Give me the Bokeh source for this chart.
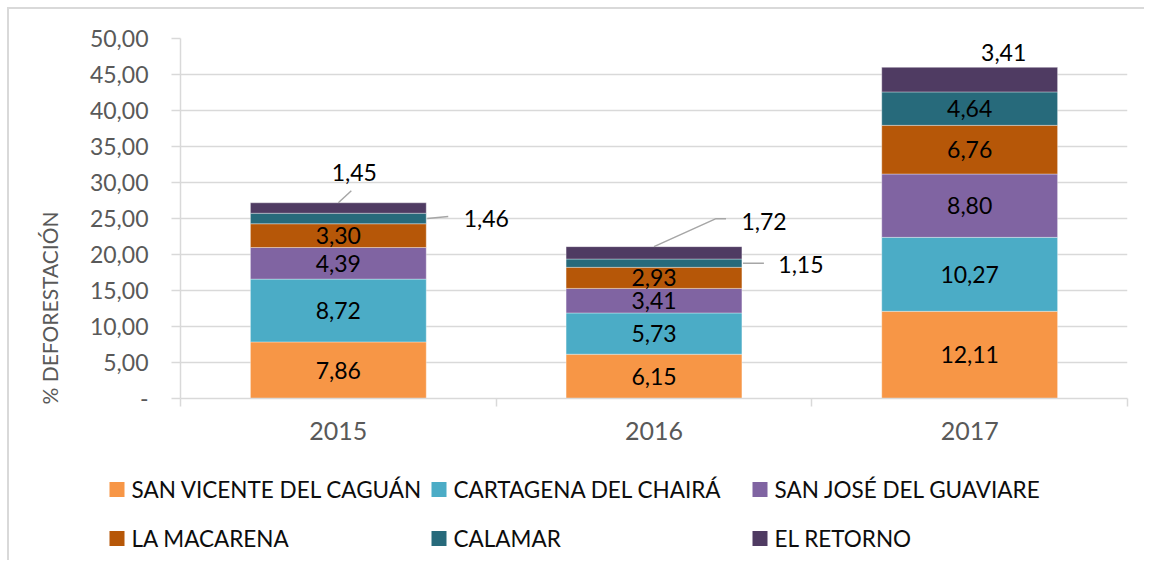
from bokeh.plotting import figure
from bokeh.layouts import column
from bokeh.models import (Range1d, LinearAxis, FixedTicker, ColumnDataSource, Title)
from bokeh.core.properties import value
from bokeh.embed import file_html
from bokeh.resources import INLINE

# ---------------- data ----------------
years = ["2015", "2016", "2017"]
municipios = ["SAN VICENTE DEL CAGUÁN", "CARTAGENA DEL CHAIRÁ", "SAN JOSÉ DEL GUAVIARE",
              "LA MACARENA", "CALAMAR", "EL RETORNO"]
san_vicente = [7.86, 6.15, 12.11]
cartagena = [8.72, 5.73, 10.27]
san_jose = [4.39, 3.41, 8.80]
macarena = [3.30, 2.93, 6.76]
calamar = [1.46, 1.15, 4.64]
retorno = [1.45, 1.72, 3.41]
series = [san_vicente, cartagena, san_jose, macarena, calamar, retorno]
colors = ["#F79646", "#4BACC6", "#8064A2", "#B65708", "#276A7B", "#4F3B62"]
y_ticks = [0, 5, 10, 15, 20, 25, 30, 35, 40, 45, 50]
y_tick_labels = ["-", "5,00", "10,00", "15,00", "20,00", "25,00", "30,00",
                 "35,00", "40,00", "45,00", "50,00"]
y_title = "% DEFORESTACIÓN"

FONT = "Lato"
W, H1, H2 = 1135, 451, 100
ML, MR, MT = 171, 17, 29
FRAME_H = 360
MB = H1 - MT - FRAME_H
PX_X = (W - ML - MR) / 3.0     # px per category
PX_Y = FRAME_H / 50.0          # px per unit
BAR_W = 0.557

n = len(years)
xpos = [k + 0.5 for k in range(n)]          # category centres
bounds = [k for k in range(n + 1)]           # category boundaries

# labels drawn outside the bar: (series index, year index) -> (anchor, dx px, dy px, leader)
outside = {
    (5, 0): ("top", 16, -30, [(0, 0), (13, -12)]),
    (4, 0): ("right", 60, 0, [(1, 0), (22, -2)]),
    (5, 1): ("top", 110, -25, [(0, 0), (62, -28), (72, -28)]),
    (4, 1): ("right", 59, 1, [(1, 0), (22, 0)]),
    (5, 2): ("top", 34, -15, None),
}

src = ColumnDataSource(dict(x=xpos, **{m: s for m, s in zip(municipios, series)}))

p = figure(width=W, height=H1, x_range=Range1d(0, n), y_range=Range1d(0, 50),
           x_axis_location=None, output_backend="svg", toolbar_location=None,
           min_border_left=ML, min_border_right=MR, min_border_top=MT, min_border_bottom=MB)
p.outline_line_color = None
p.xgrid.grid_line_color = None
p.ygrid.grid_line_color = "#D9D9D9"
p.ygrid.grid_line_width = 1.5
p.ygrid.ticker = FixedTicker(ticks=y_ticks)

yax = p.yaxis[0]
yax.ticker = FixedTicker(ticks=y_ticks)
yax.major_label_overrides = {t: l for t, l in zip(y_ticks, y_tick_labels)}
yax.axis_line_color = "#D9D9D9"
yax.axis_line_width = 1.5
yax.major_tick_line_color = "#D9D9D9"
yax.major_tick_line_width = 1.5
yax.major_tick_out = 9
yax.major_tick_in = 0
yax.minor_tick_line_color = None
yax.major_label_standoff = 23
yax.major_label_text_font = FONT
yax.major_label_text_font_size = "23px"
yax.major_label_text_color = "#595959"

# y title (off-centre, like the reference)
p.add_layout(Title(text=y_title, align="left", offset=-6, standoff=50,
                   text_font=FONT, text_font_size="21px", text_font_style="normal",
                   text_color="#595959"), "left")

# boundary ticks along the bottom
tax = LinearAxis(ticker=FixedTicker(ticks=bounds))
tax.axis_line_color = "#D9D9D9"
tax.axis_line_width = 1.5
tax.major_tick_line_color = "#D9D9D9"
tax.major_tick_line_width = 1.5
tax.major_tick_out = 8
tax.major_tick_in = 0
tax.minor_tick_line_color = None
tax.major_label_text_alpha = 0
tax.major_label_text_font_size = "1px"
tax.major_label_standoff = 0
p.add_layout(tax, "below")

# year labels
cax = LinearAxis(ticker=FixedTicker(ticks=xpos),
                 major_label_overrides={x: y for x, y in zip(xpos, years)})
cax.axis_line_color = None
cax.major_tick_line_color = None
cax.minor_tick_line_color = None
cax.major_label_standoff = 9
cax.major_label_text_font = FONT
cax.major_label_text_font_size = "25px"
cax.major_label_text_color = "#595959"
p.add_layout(cax, "below")

rs = p.vbar_stack(municipios, x="x", width=BAR_W, source=src,
                  fill_color=colors, line_color="white", line_alpha=0.35, line_width=1)

# ---------------- data labels ----------------
lx, ly, lt = [], [], []
leader_xs, leader_ys = [], []
for j in range(n):
    bottom = 0.0
    total = sum(s[j] for s in series)
    for i, s in enumerate(series):
        v = s[j]
        txt = f"{v:.2f}".replace(".", ",")
        if (i, j) in outside:
            anchor, dx, dy, leader = outside[(i, j)]
            if anchor == "top":
                ax_, ay_ = xpos[j], total
            else:
                ax_, ay_ = xpos[j] + BAR_W / 2, bottom + v / 2
            lx.append(ax_ + dx / PX_X)
            ly.append(ay_ - dy / PX_Y)
            if leader:
                leader_xs.append([ax_ + px / PX_X for px, py in leader])
                leader_ys.append([ay_ - py / PX_Y for px, py in leader])
        else:
            lx.append(xpos[j])
            ly.append(bottom + v / 2)
        lt.append(txt)
        bottom += v

p.multi_line(xs=leader_xs, ys=leader_ys, line_color="#A6A6A6", line_width=1.5)
p.text(x=lx, y=ly, text=lt, text_font=value(FONT), text_font_size="23px",
       text_align="center", text_baseline="middle", text_color="black")

# ---------------- legend strip (pixel-space layout, 3 columns x 2 rows) ----------------
LEG_COL_X = [100, 422, 743]     # swatch left edges (px)
LEG_ROW_Y = [71, 22]            # row centres (px from strip bottom)
SW = 15

lf = figure(width=W, height=H2, x_range=Range1d(0, W), y_range=Range1d(0, H2),
            output_backend="svg", toolbar_location=None,
            min_border_left=0, min_border_right=0, min_border_top=0, min_border_bottom=0)
lf.frame_align = False
lf.axis.visible = False
lf.grid.visible = False
lf.outline_line_color = None

sx, sy, tx = [], [], []
for k in range(len(municipios)):
    r, c = divmod(k, 3)
    sx.append(LEG_COL_X[c] + SW / 2)
    sy.append(LEG_ROW_Y[r])
    tx.append(LEG_COL_X[c] + SW + 7)
lf.rect(x=sx, y=sy, width=SW, height=SW, width_units="screen", height_units="screen",
        fill_color=colors, line_color=None)
lf.text(x=tx, y=sy, text=municipios, text_font=value(FONT), text_font_size="22.5px",
        text_align="left", text_baseline="middle", text_color="#0D0D0D")

page = column(p, lf, spacing=0,
              styles={"margin-left": "7px", "margin-top": "7px",
                      "border-top": "2px solid #d9d9d9", "border-left": "2px solid #d9d9d9"})

open("out.html", "w").write(file_html(page, INLINE))
